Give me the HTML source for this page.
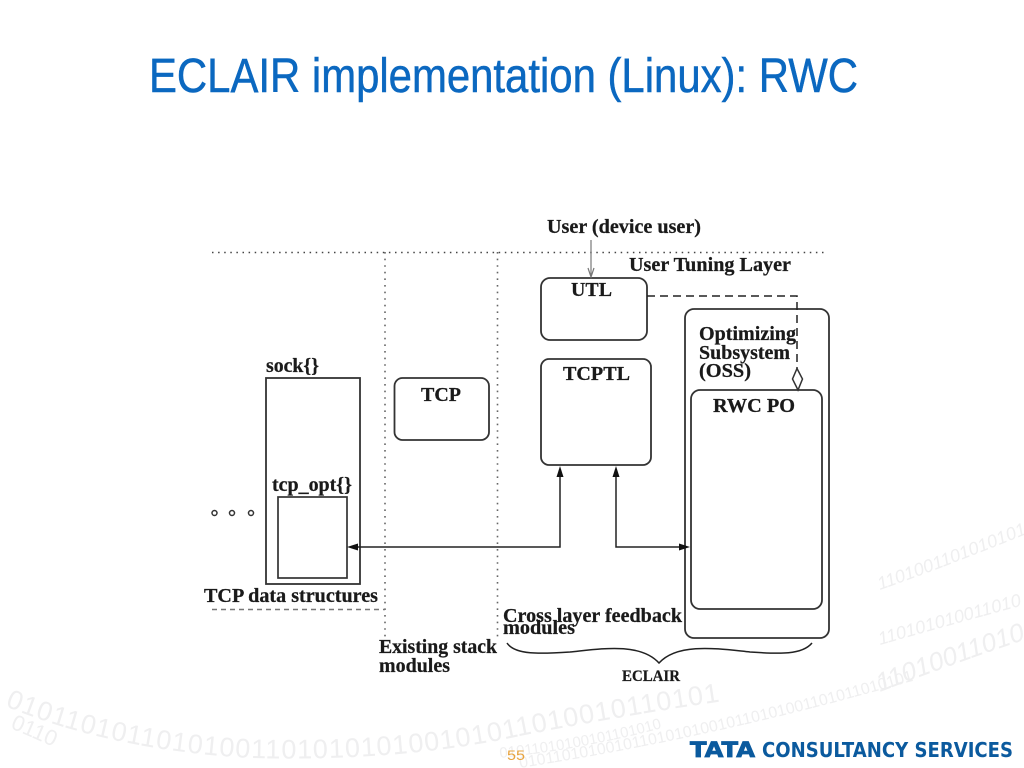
<!DOCTYPE html>
<html><head><meta charset="utf-8"><style>
html,body{margin:0;padding:0;background:#fff}
svg{display:block}
.t{font-family:"Liberation Serif",serif;font-weight:bold;fill:#1a1a1a;stroke:#1a1a1a;stroke-width:.25;font-size:19.5px}
.bg{font-family:"Liberation Sans",sans-serif;fill:#efeff0}
</style></head><body>
<svg width="1024" height="768" viewBox="0 0 1024 768" xmlns="http://www.w3.org/2000/svg">
<defs>
<path id="p1" d="M5 706 Q110 750 250 758 Q400 762 520 736 Q640 712 800 690 Q900 675 1024 640"/>
<path id="p2" d="M10 728 Q50 745 100 768"/>
<path id="p3" d="M880 590 Q950 565 1024 535"/>
<path id="p4" d="M880 645 Q950 625 1024 605"/>
<path id="p5" d="M880 692 Q950 665 1024 640"/>
<path id="p6" d="M520 768 Q700 740 880 690 Q950 670 1024 655"/>
<path id="p7" d="M500 758 Q620 745 720 710"/>
</defs>
<text class="bg" font-size="27" letter-spacing="1"><textPath href="#p1">0101101011010100110101010100101011010010110101</textPath></text>
<text class="bg" font-size="22"><textPath href="#p2">0110</textPath></text>
<text class="bg" font-size="18" font-style="italic"><textPath href="#p3">1101001101010101</textPath></text>
<text class="bg" font-size="18" font-style="italic"><textPath href="#p4">1101010100110101</textPath></text>
<text class="bg" font-size="26" font-style="italic"><textPath href="#p5">110100110101</textPath></text>
<text class="bg" font-size="16"><textPath href="#p6">0101101010010110101010010110101001101011010101</textPath></text>
<text class="bg" font-size="15"><textPath href="#p7">01011010100101101010</textPath></text>

<text x="149" y="92" font-family="Liberation Sans,sans-serif" font-size="48" fill="#0b68c0" stroke="#0b68c0" stroke-width=".5" textLength="709" lengthAdjust="spacingAndGlyphs">ECLAIR implementation (Linux): RWC</text>

<g fill="none" stroke="#333">
<path d="M212 252.500H824" stroke-width="1.500" stroke-dasharray="1.500 4.600" stroke="#444"/>
<path d="M385 252V638M497.500 252V638" stroke-width="1.600" stroke-dasharray="1.600 5" stroke="#666"/>
<path d="M212 609.500H385" stroke-width="1.400" stroke-dasharray="5 4" stroke="#777"/>
<rect x="266" y="378" width="94" height="206" stroke-width="1.800"/>
<rect x="278" y="497" width="69" height="81" stroke-width="1.700"/>
<rect x="394.500" y="378" width="94.500" height="62" rx="8" stroke-width="1.800"/>
<rect x="541" y="278" width="106" height="62" rx="9" stroke-width="1.800"/>
<rect x="541" y="359" width="110" height="106" rx="8" stroke-width="1.800"/>
<rect x="685" y="309" width="144" height="329" rx="9" stroke-width="1.800"/>
<rect x="691" y="390" width="131" height="219" rx="9" stroke-width="1.800"/>
<path d="M647 296H797V369" stroke-width="1.500" stroke-dasharray="8 5" stroke="#222"/>
<path d="M797 368.500L802.500 379L798 390L792.500 379Z" stroke-width="1.500" fill="#fff" stroke="#333"/>
<path d="M591 240V276" stroke-width="1.200" stroke="#777"/>
<path d="M588 268L591 277L594 268" stroke-width="1.200" stroke="#777"/>
<path d="M352 547H560V472" stroke-width="1.500" stroke="#222"/>
<path d="M616 472V547H685" stroke-width="1.500" stroke="#222"/>
<circle cx="214.500" cy="513" r="2.500" stroke-width="1.500"/>
<circle cx="232" cy="513" r="2.500" stroke-width="1.500"/>
<circle cx="251" cy="513" r="2.500" stroke-width="1.500"/>
<path d="M507 643C515 655 540 654 570 652C600 649 640 642 659 663C678 642 720 649 750 652C780 654 802 655 812 643" stroke-width="1.500" stroke="#222"/>
</g>
<g fill="#111">
<path d="M347 547L358 543.500V550.500Z"/>
<path d="M560 466L556.500 477H563.500Z"/>
<path d="M616 466L612.500 477H619.500Z"/>
<path d="M690 547L679 543.500V550.500Z"/>
</g>

<text class="t" x="547" y="233" textLength="154" lengthAdjust="spacingAndGlyphs">User (device user)</text>
<text class="t" x="629" y="271" textLength="162" lengthAdjust="spacingAndGlyphs">User Tuning Layer</text>
<text class="t" x="571" y="296" textLength="41" lengthAdjust="spacingAndGlyphs">UTL</text>
<text class="t" x="563" y="380" textLength="67" lengthAdjust="spacingAndGlyphs">TCPTL</text>
<text class="t" x="699" y="340" textLength="97" lengthAdjust="spacingAndGlyphs">Optimizing</text>
<text class="t" x="699" y="359" textLength="91" lengthAdjust="spacingAndGlyphs">Subsystem</text>
<text class="t" x="699" y="377" textLength="52" lengthAdjust="spacingAndGlyphs">(OSS)</text>
<text class="t" x="713" y="412" textLength="82" lengthAdjust="spacingAndGlyphs">RWC PO</text>
<text class="t" x="266" y="372" textLength="53" lengthAdjust="spacingAndGlyphs">sock{}</text>
<text class="t" x="421" y="401" textLength="40" lengthAdjust="spacingAndGlyphs">TCP</text>
<text class="t" x="272" y="491" textLength="80" lengthAdjust="spacingAndGlyphs">tcp_opt{}</text>
<text class="t" x="204" y="602" textLength="174" lengthAdjust="spacingAndGlyphs">TCP data structures</text>
<text class="t" x="379" y="653" textLength="118" lengthAdjust="spacingAndGlyphs">Existing stack</text>
<text class="t" x="379" y="672" textLength="71" lengthAdjust="spacingAndGlyphs">modules</text>
<text class="t" x="503" y="622" textLength="179" lengthAdjust="spacingAndGlyphs">Cross layer feedback</text>
<text class="t" x="503" y="634" textLength="72" lengthAdjust="spacingAndGlyphs">modules</text>
<text class="t" x="622" y="681" style="font-size:16px" textLength="58" lengthAdjust="spacingAndGlyphs">ECLAIR</text>

<text x="507" y="760" font-family="Liberation Sans,sans-serif" font-size="14" fill="#e8a33d" textLength="18" lengthAdjust="spacingAndGlyphs">55</text>
<text x="690" y="757" font-family="DejaVu Sans,sans-serif" font-weight="bold" font-size="21" fill="#0b5a9e" stroke="#0b5a9e" stroke-width=".8" textLength="65" lengthAdjust="spacingAndGlyphs">TATA</text>
<text x="762" y="757" font-family="DejaVu Sans,sans-serif" font-weight="bold" font-size="20" fill="#0b5a9e" textLength="251" lengthAdjust="spacingAndGlyphs">CONSULTANCY SERVICES</text>
</svg>
</body></html>
